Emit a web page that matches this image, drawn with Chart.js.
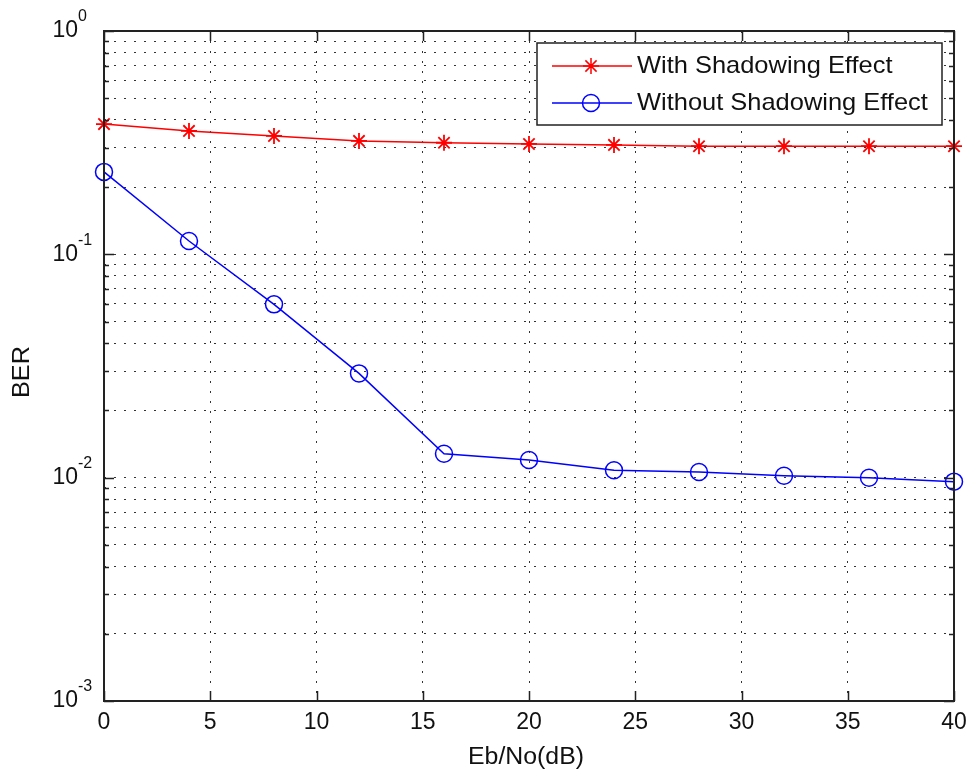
<!DOCTYPE html>
<html>
<head>
<meta charset="utf-8">
<title>BER vs Eb/No</title>
<script src="https://cdn.jsdelivr.net/npm/chart.js@4/dist/chart.umd.min.js"></script>
<style>
  html, body { margin: 0; padding: 0; background: #fff; }
  #wrap { width: 970px; height: 772px; }
</style>
</head>
<body>
<div id="wrap"><canvas id="berChart" width="970" height="772"></canvas></div>
<script>
// data
const ebNo = [0, 4, 8, 12, 16, 20, 24, 28, 32, 36, 40];
const berShadow = [0.383, 0.357, 0.339, 0.322, 0.316, 0.312, 0.309, 0.305, 0.305, 0.305, 0.305];
const berNoShadow = [0.234, 0.1147, 0.0597, 0.0293, 0.0128, 0.0120, 0.0108, 0.0106, 0.0102, 0.0100, 0.0096];

const seriesNames = ['With Shadowing Effect', 'Without Shadowing Effect'];
const xTicks = [0, 5, 10, 15, 20, 25, 30, 35, 40];
const yDecades = [0.001, 0.01, 0.1, 1];
const yExponents = ['-3', '-2', '-1', '0'];
const minorSteps = [1, 2, 3, 4, 5, 6, 7, 8, 9];

const yTickValues = [];
yDecades.slice(0, -1).forEach(d => minorSteps.forEach(m => yTickValues.push(+(d * m).toPrecision(3))));
yTickValues.push(1);

const fontName = '"Liberation Sans", Arial, Helvetica, sans-serif';
const axisColor = '#222';

function drawStar(ctx, x, y, r) {
    ctx.beginPath();
    ctx.moveTo(x - r, y); ctx.lineTo(x + r, y);
    ctx.moveTo(x, y - r); ctx.lineTo(x, y + r);
    const d = r * 0.7;
    ctx.moveTo(x - d, y - d); ctx.lineTo(x + d, y + d);
    ctx.moveTo(x - d, y + d); ctx.lineTo(x + d, y - d);
    ctx.stroke();
}

// text a bit wider than Liberation Sans, like the stretched matlab font
function wideText(ctx, text, x, y, align, stretch) {
    ctx.save();
    ctx.translate(x, y);
    ctx.scale(stretch, 1);
    ctx.textAlign = align;
    ctx.fillText(text, 0, 0);
    ctx.restore();
}

const matlabAxes = {
    id: 'matlabAxes',
    afterDraw(chart) {
        const ctx = chart.ctx;
        const area = chart.chartArea;
        const xs = chart.scales.x;
        const ys = chart.scales.y;
        ctx.save();

        // tick marks (inward, both sides)
        ctx.strokeStyle = axisColor;
        ctx.lineWidth = 1.5;
        ctx.beginPath();
        xTicks.forEach(v => {
            const px = Math.round(xs.getPixelForValue(v)) + 0.5;
            ctx.moveTo(px, area.bottom); ctx.lineTo(px, area.bottom - 10);
            ctx.moveTo(px, area.top); ctx.lineTo(px, area.top + 10);
        });
        yTickValues.forEach(v => {
            const py = Math.round(ys.getPixelForValue(v)) + 0.5;
            const len = yDecades.includes(v) ? 10 : 5;
            ctx.moveTo(area.left, py); ctx.lineTo(area.left + len, py);
            ctx.moveTo(area.right, py); ctx.lineTo(area.right - len, py);
        });
        ctx.stroke();

        // box
        ctx.lineWidth = 2;
        ctx.strokeRect(area.left, area.top, area.right - area.left, area.bottom - area.top);

        // x tick labels
        ctx.fillStyle = '#111';
        ctx.font = '23px ' + fontName;
        ctx.textAlign = 'center';
        ctx.textBaseline = 'middle';
        xTicks.forEach(v => ctx.fillText(String(v), xs.getPixelForValue(v), area.bottom + 22));

        // y tick labels 10^n
        yDecades.forEach((v, i) => {
            const py = ys.getPixelForValue(v);
            ctx.font = '23px ' + fontName;
            ctx.textAlign = 'right';
            ctx.textBaseline = 'middle';
            ctx.fillText('10', 78, py);
            ctx.font = '16px ' + fontName;
            ctx.textAlign = 'left';
            ctx.fillText(yExponents[i], 78, py - 14);
        });

        // axis titles
        ctx.font = '23px ' + fontName;
        ctx.textBaseline = 'middle';
        wideText(ctx, 'Eb/No(dB)', (area.left + area.right) / 2 - 3, 758, 'center', 1.08);
        ctx.save();
        ctx.translate(23, 372);
        ctx.rotate(-Math.PI / 2);
        wideText(ctx, 'BER', 0, 0, 'center', 1.1);
        ctx.restore();

        // legend
        const lx = 537, ly = 43, lw = 405, lh = 82;
        ctx.fillStyle = '#fff';
        ctx.fillRect(lx, ly, lw, lh);
        ctx.strokeStyle = axisColor;
        ctx.lineWidth = 1.5;
        ctx.strokeRect(lx, ly, lw, lh);
        const rows = [66, 103];
        const colors = ['#ff0000', '#0000ff'];
        rows.forEach((ry, i) => {
            ctx.strokeStyle = colors[i];
            ctx.lineWidth = 1.5;
            ctx.beginPath();
            ctx.moveTo(552, ry); ctx.lineTo(632, ry);
            ctx.stroke();
            if (i === 0) {
                drawStar(ctx, 591, ry, 8);
            } else {
                ctx.beginPath();
                ctx.arc(591, ry, 8.5, 0, Math.PI * 2);
                ctx.stroke();
            }
            ctx.fillStyle = '#111';
            ctx.font = '24px ' + fontName;
            ctx.textBaseline = 'middle';
            wideText(ctx, seriesNames[i], 637, ry, 'left', 1.06);
        });

        ctx.restore();
    }
};

new Chart(document.getElementById('berChart'), {
    type: 'line',
    data: {
        datasets: [
            {
                label: seriesNames[0],
                data: ebNo.map((x, i) => ({ x: x, y: berShadow[i] })),
                borderColor: '#ff0000',
                backgroundColor: '#ff0000',
                borderWidth: 1.5,
                pointStyle: 'star',
                pointRadius: 8,
                pointBorderWidth: 1.8,
                fill: false,
                tension: 0,
                clip: false
            },
            {
                label: seriesNames[1],
                data: ebNo.map((x, i) => ({ x: x, y: berNoShadow[i] })),
                borderColor: '#0000ff',
                backgroundColor: 'rgba(0,0,0,0)',
                borderWidth: 1.5,
                pointStyle: 'circle',
                pointRadius: 8.5,
                pointBorderWidth: 1.5,
                fill: false,
                tension: 0,
                clip: false
            }
        ]
    },
    options: {
        responsive: false,
        animation: false,
        devicePixelRatio: 1,
        layout: { padding: { left: 104, right: 16, top: 31, bottom: 71 } },
        plugins: { legend: { display: false }, tooltip: { enabled: false } },
        scales: {
            x: {
                type: 'linear',
                min: 0,
                max: 40,
                afterFit: s => { s.height = 0; },
                afterBuildTicks: s => { s.ticks = xTicks.map(v => ({ value: v })); },
                ticks: { display: false },
                grid: { color: '#333', lineWidth: 1, drawTicks: false },
                border: { display: false, dash: [2, 8] }
            },
            y: {
                type: 'logarithmic',
                min: 0.001,
                max: 1,
                afterFit: s => { s.width = 0; },
                afterBuildTicks: s => { s.ticks = yTickValues.map(v => ({ value: v })); },
                ticks: { display: false },
                grid: { color: '#333', lineWidth: 1, drawTicks: false },
                border: { display: false, dash: [2, 8] }
            }
        }
    },
    plugins: [matlabAxes]
});
</script>
</body>
</html>
